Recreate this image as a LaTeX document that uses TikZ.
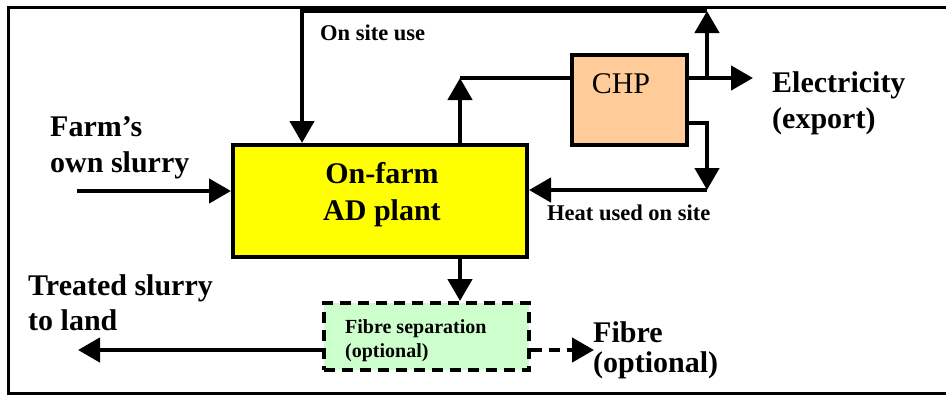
\documentclass[tikz,border=0pt]{standalone}
\usepackage{fontspec}
\setmainfont{Liberation Serif}
\usetikzlibrary{arrows.meta}
\begin{document}
\begin{tikzpicture}[x=1pt,y=-1pt,
  conn/.style={line width=4.5pt},
  arr/.style={conn,-{Triangle[length=22pt,width=24pt]}},
  boxline/.style={draw=black,line width=4pt,inner sep=0pt},
  bigtxt/.style={font=\fontsize{30}{36}\selectfont\bfseries,inner sep=0pt,align=left,anchor=base west},
  smalltxt/.style={font=\fontsize{22.5}{24}\selectfont\bfseries,inner sep=0pt,anchor=base west},
  dsh/.style={dash pattern=on 11pt off 7pt}
]
\useasboundingbox (0,0) rectangle (946,394);
\begin{scope}
\clip (0,0) rectangle (946,394);
\draw[line width=3pt] (8,7) rectangle (960,393);
\end{scope}

% boxes
\node[boxline,fill={rgb,255:red,255;green,255;blue,0},minimum width=294pt,minimum height=112pt] (ad) at (380,201) {};
\node[font=\fontsize{30}{37}\selectfont\bfseries,align=center,inner sep=0pt,anchor=base] (adtxt) at (382,220) {On-farm\\AD plant};
\node[boxline,fill={rgb,255:red,255;green,204;blue,153},minimum width=115pt,minimum height=90pt] (chp) at (629.5,100) {};
\node[font=\fontsize{30}{34}\selectfont,inner sep=0pt] (chptxt) at (621,84) {CHP};
\node[boxline,dsh,fill={rgb,255:red,204;green,255;blue,204},minimum width=205pt,minimum height=67pt] (fib) at (426,336.5) {};
\node[font=\fontsize{20}{24}\selectfont\bfseries,align=left,inner sep=0pt,anchor=base west] (fibtxt) at (345,357) {Fibre separation\\(optional)};

% texts
\node[bigtxt] (farm) at (50,172) {Farm’s\\own slurry};
\node[bigtxt,font=\fontsize{30}{35}\selectfont\bfseries] (treated) at (28,330) {Treated slurry\\to land};
\node[bigtxt] (elec) at (772,128) {Electricity\\(export)};
\node[bigtxt,font=\fontsize{30}{30}\selectfont\bfseries] (fibre) at (593,372) {Fibre\\(optional)};
\node[smalltxt] (onsite) at (320,40) {On site use};
\node[smalltxt] (heat) at (547,220) {Heat used on site};

% coordinates
\coordinate (tl) at (302,11);
\coordinate (tr) at (707,11);
\coordinate (ej) at (707,78);
\coordinate (et) at (753,78);
\coordinate (up) at (460,78);
\coordinate (hj) at (707,123);
\coordinate (hd) at (707,190);
\coordinate (fs) at (77,191);
\coordinate (tt) at (78,350);
\coordinate (ft) at (594,350);

% connectors
\draw[arr] (chp.east |- ej) -- (et);
\draw[arr] (ej) -- (tr);
\draw[arr] (tr) -- (tl) -- (tl |- ad.north);
\draw[arr] (ad.north -| up) -- (up);
\draw[conn] (up) -- (chp.west |- up);
\draw[arr] (chp.east |- hj) -- (hj) -- (hd);
\draw[arr] (hd) -- (ad.east |- hd);
\draw[arr] (fs) -- (ad.west |- fs);
\draw[arr] (ad.south -| up) -- (fib.north -| up);
\draw[arr] (fib.west |- tt) -- (tt);
\draw[arr,dsh] (fib.east |- ft) -- (ft);
\end{tikzpicture}
\end{document}
